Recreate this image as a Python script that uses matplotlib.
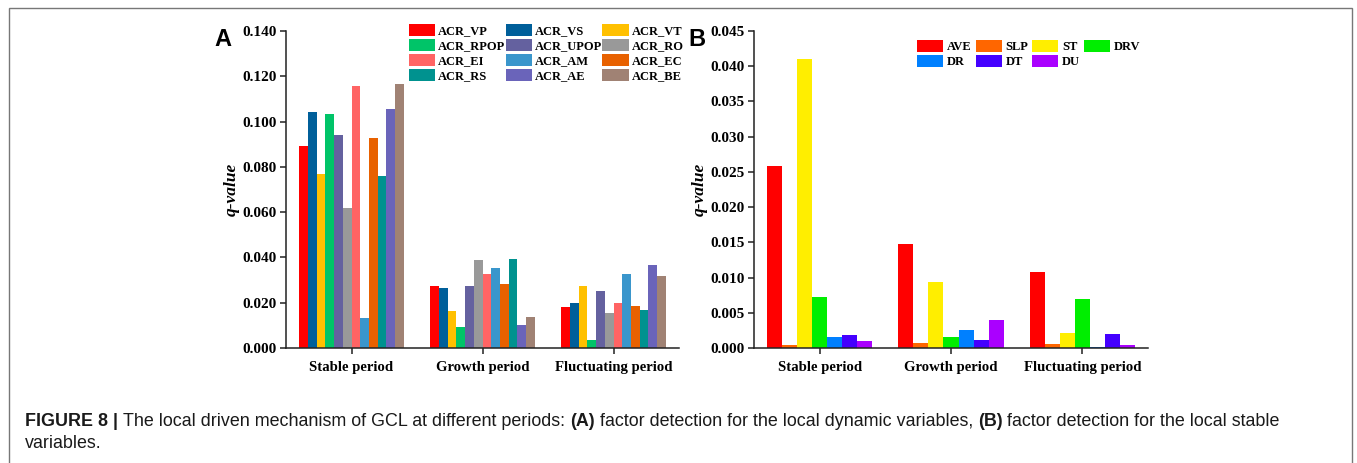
import matplotlib
matplotlib.use('Agg')
import matplotlib.pyplot as plt
from matplotlib.patches import Rectangle
import numpy as np

periods = ['Stable period', 'Growth period', 'Fluctuating period']

# panel A - local dynamic variables
a_names = ['ACR_VP', 'ACR_VS', 'ACR_VT', 'ACR_RPOP', 'ACR_UPOP', 'ACR_RO',
           'ACR_EI', 'ACR_AM', 'ACR_EC', 'ACR_RS', 'ACR_AE', 'ACR_BE']
a_stable = [0.0894, 0.1044, 0.0767, 0.1033, 0.0942, 0.0620,
            0.1156, 0.0131, 0.0926, 0.0760, 0.1057, 0.1166]
a_growth = [0.0274, 0.0265, 0.0165, 0.0091, 0.0274, 0.0389,
            0.0328, 0.0355, 0.0284, 0.0392, 0.0103, 0.0135]
a_fluct = [0.0181, 0.0199, 0.0274, 0.0037, 0.0253, 0.0155,
           0.0200, 0.0328, 0.0184, 0.0166, 0.0367, 0.0318]
a_colors = ['#ff0000', '#005f9a', '#ffc000', '#00c468', '#64619f', '#999999',
            '#ff6464', '#3a96cc', '#e86100', '#00928f', '#6a64ba', '#a08274']

# panel B - local stable variables
b_names = ['AVE', 'SLP', 'ST', 'DRV', 'DR', 'DT', 'DU']
b_stable = [0.0258, 0.0004, 0.0410, 0.0073, 0.0016, 0.0018, 0.0010]
b_growth = [0.0148, 0.0007, 0.0093, 0.0015, 0.0026, 0.0011, 0.0040]
b_fluct = [0.0108, 0.0005, 0.0022, 0.0070, 0.0001, 0.0020, 0.0004]
b_colors = ['#ff0000', '#ff6600', '#ffee00', '#00ee00', '#0080ff', '#4400ff', '#aa00ff']

plt.rcParams['font.family'] = ['Liberation Serif', 'DejaVu Serif']
plt.rcParams['font.weight'] = 'bold'

W, H = 1357, 463
fig = plt.figure(figsize=(W / 100, H / 100), dpi=100)


def px(x0, y0, x1, y1):
    return [x0 / W, 1 - y1 / H, (x1 - x0) / W, (y1 - y0) / H]


def panel(rect, names, vals, colors, ymax, step):
    ax = fig.add_axes(rect)
    n = len(names)
    width = 0.8 / n
    x = np.arange(len(periods))
    handles = []
    for i in range(n):
        hv = [vals[0][i], vals[1][i], vals[2][i]]
        b = ax.bar(x - 0.4 + width * (i + 0.5), hv, width, color=colors[i],
                   label=names[i], linewidth=0)
        handles.append(b)
    ax.set_xlim(-0.5, 2.5)
    ax.set_ylim(0, ymax)
    ax.set_yticks(np.arange(0, ymax + step / 2, step))
    ax.yaxis.set_major_formatter(plt.FormatStrFormatter('%.3f'))
    ax.set_xticks(x)
    ax.set_xticklabels(periods)
    for s in ['top', 'right']:
        ax.spines[s].set_visible(False)
    for s in ['left', 'bottom']:
        ax.spines[s].set_linewidth(1.1)
        ax.spines[s].set_color('#222222')
    ax.tick_params(direction='out', length=4, width=1.1, color='#222222',
                   labelsize=11, pad=3)
    ax.tick_params(axis='x', labelsize=10.6, pad=5)
    for t in ax.get_xticklabels() + ax.get_yticklabels():
        t.set_fontweight('bold')
    ax.set_ylabel('q-value', fontsize=12.5, fontweight='bold', style='italic', labelpad=1.5)
    return ax, handles


axA, hA = panel(px(286, 31, 679, 348), a_names, [a_stable, a_growth, a_fluct],
                a_colors, 0.140, 0.020)
axB, hB = panel(px(754, 31, 1148, 348), b_names, [b_stable, b_growth, b_fluct],
                b_colors, 0.045, 0.005)

# legends (row-wise ordering like the original)
orderA = [0, 3, 6, 9, 1, 4, 7, 10, 2, 5, 8, 11]
fig.legend([hA[i] for i in orderA], [a_names[i] for i in orderA],
           loc='upper left', bbox_to_anchor=(409 / W, 1 - 24 / H), ncol=3,
           frameon=False, handlelength=2.1, handleheight=1.05,
           handletextpad=0.25, labelspacing=0.16, columnspacing=0.0,
           borderpad=0, borderaxespad=0, prop={'weight': 'bold', 'size': 9})
orderB = [0, 4, 1, 5, 2, 6, 3]
fig.legend([hB[i] for i in orderB], [b_names[i] for i in orderB],
           loc='upper left', bbox_to_anchor=(917 / W, 1 - 40 / H), ncol=4,
           frameon=False, handlelength=2.1, handleheight=1.05,
           handletextpad=0.3, labelspacing=0.16, columnspacing=0.3,
           borderpad=0, borderaxespad=0, prop={'weight': 'bold', 'size': 9})

# panel letters
fig.text(214 / W, 1 - 46 / H, 'A', fontsize=17, fontweight='bold',
         family=['Liberation Sans'], ha='left', va='baseline')
fig.text(688 / W, 1 - 46 / H, 'B', fontsize=17, fontweight='bold',
         family=['Liberation Sans'], ha='left', va='baseline')

# frame around the figure
fig.patches.append(Rectangle((9 / W, -0.05), (1352 - 9) / W, 1.05 - 8 / H,
                             transform=fig.transFigure, fill=False,
                             edgecolor='#777777', linewidth=1.0))

# caption
pieces = [('FIGURE 8 | ', 'bold'),
          ('The local driven mechanism of GCL at different periods: ', 'normal'),
          ('(A)', 'bold'),
          (' factor detection for the local dynamic variables, ', 'normal'),
          ('(B)', 'bold'),
          (' factor detection for the local stable', 'normal')]
fig.canvas.draw()
r = fig.canvas.get_renderer()
xcur = 25
for txt, wt in pieces:
    t = fig.text(xcur / W, 1 - 426 / H, txt, fontsize=12.9, fontweight=wt,
                 family=['Liberation Sans'], color='#1a1a1a', ha='left', va='baseline')
    bb = t.get_window_extent(renderer=r)
    xcur += bb.width
fig.text(25 / W, 1 - 448 / H, 'variables.', fontsize=12.9, fontweight='normal',
         family=['Liberation Sans'], color='#1a1a1a', ha='left', va='baseline')

fig.savefig('out.png', dpi=100)
